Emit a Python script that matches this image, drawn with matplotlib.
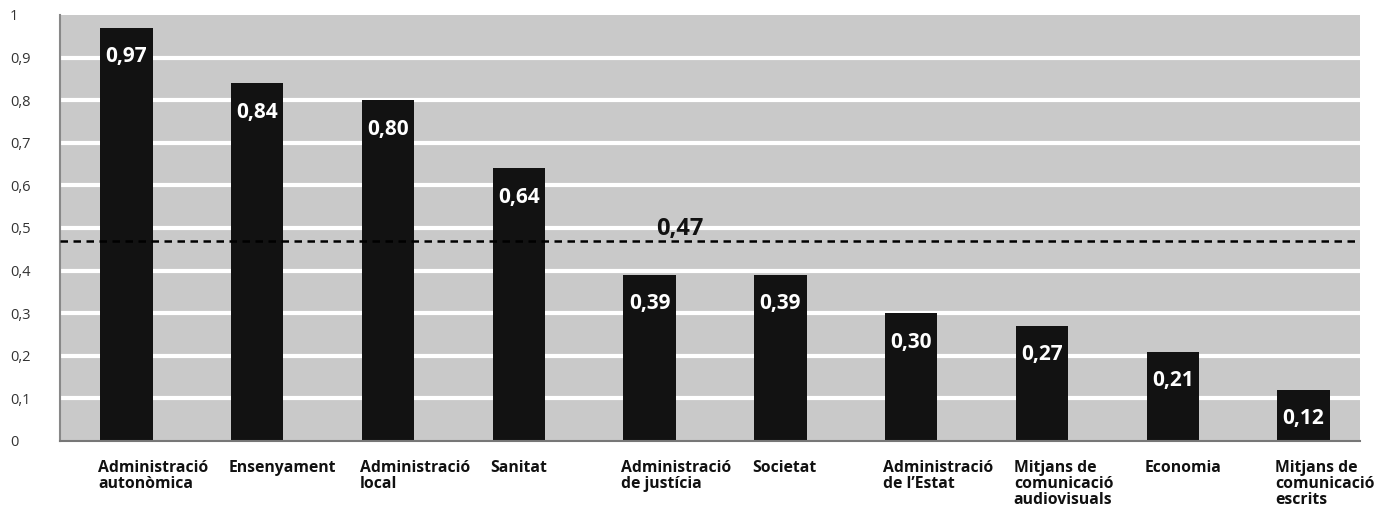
import matplotlib
matplotlib.use("Agg")
import matplotlib.pyplot as plt
from matplotlib.transforms import blended_transform_factory

categories = [
    "Administració\nautonòmica",
    "Ensenyament",
    "Administració\nlocal",
    "Sanitat",
    "Administració\nde justícia",
    "Societat",
    "Administració\nde l’Estat",
    "Mitjans de\ncomunicació\naudiovisuals",
    "Economia",
    "Mitjans de\ncomunicació\nescrits",
]
values = [0.97, 0.84, 0.80, 0.64, 0.39, 0.39, 0.30, 0.27, 0.21, 0.12]
value_labels = ["0,97", "0,84", "0,80", "0,64", "0,39", "0,39", "0,30", "0,27", "0,21", "0,12"]
mean_value = 0.47
mean_label = "0,47"
yticks = [0, 0.1, 0.2, 0.3, 0.4, 0.5, 0.6, 0.7, 0.8, 0.9, 1.0]
ytick_labels = ["0", "0,1", "0,2", "0,3", "0,4", "0,5", "0,6", "0,7", "0,8", "0,9", "1"]

plt.rcParams['font.family'] = ['Open Sans', 'DejaVu Sans']

fig = plt.figure(figsize=(13.87, 5.19), dpi=100)
ax = fig.add_axes([60/1387, 1-441/519, 1300/1387, (441-15)/519])
ax.set_facecolor("#c9c9c9")

x = list(range(len(values)))
ax.set_xlim(-0.508, 9.432)
ax.set_ylim(0, 1.0)

for t in yticks[1:-1]:
    ax.axhline(t, color="white", lw=3, zorder=1)

ax.bar(x, values, width=0.4, color="#121212", zorder=2)

for xi, v, lab in zip(x, values, value_labels):
    ax.text(xi, v - 0.068, lab, color="white", fontsize=15, fontweight="bold",
            ha="center", va="center", zorder=3)

ax.axhline(mean_value, color="black", lw=1.8, ls=(0, (3, 2.2)), zorder=4)
ax.text(4.23, mean_value + 0.027, mean_label, fontsize=17, fontweight="bold",
        ha="center", va="center", color="#111111", zorder=4)

ax.set_xticks([])
ax.set_yticks(yticks)
ax.set_yticklabels(ytick_labels, fontsize=10.5, color="#333333", ha="left")
ax.tick_params(axis="y", length=0, pad=36)

for s in ["top", "right"]:
    ax.spines[s].set_visible(False)
ax.spines["left"].set_color("#888888")
ax.spines["left"].set_linewidth(1.5)
ax.spines["bottom"].set_color("#777777")
ax.spines["bottom"].set_linewidth(1.5)

trans = blended_transform_factory(ax.transData, ax.transAxes)
for xi, c in zip(x, categories):
    ax.text(xi - 0.215, -0.045, c, transform=trans, fontsize=11.3, fontweight="bold",
            ha="left", va="top", linespacing=1.0, color="#111111")

fig.savefig("out.png", dpi=100, facecolor="white")
